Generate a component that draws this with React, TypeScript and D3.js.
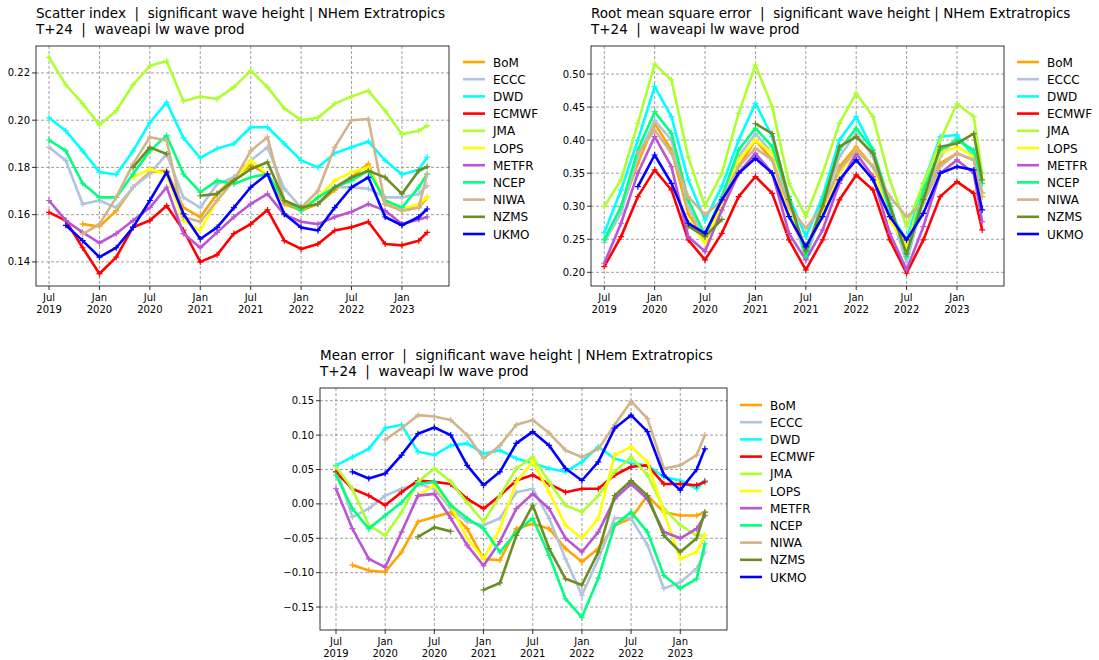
import React from 'react';
import * as d3 from 'd3';

// months since Jul 2019
const months = [0, 2, 4, 6, 8, 10, 12, 14, 16, 18, 20, 22, 24, 26, 28, 30, 32, 34, 36, 38, 40, 42, 44, 45];
const centres = ['BoM', 'ECCC', 'DWD', 'ECMWF', 'JMA', 'LOPS', 'METFR', 'NCEP', 'NIWA', 'NZMS', 'UKMO'];
const colours = ['#ffa500', '#b0c4de', '#00ffff', '#ff0000', '#adff2f', '#ffff00', '#ba55d3', '#00ff7f', '#d2b48c', '#6b8e23', '#0000ff'];
const xTickMonths = [0, 6, 12, 18, 24, 30, 36, 42];
const xTickLabels = [['Jul', '2019'], ['Jan', '2020'], ['Jul', '2020'], ['Jan', '2021'], ['Jul', '2021'], ['Jan', '2022'], ['Jul', '2022'], ['Jan', '2023']];
const N = null;

type S = (number | null)[];

const siBoM: S = [N, N, .156, .155, .1617, .1716, .178, .1786, .163, .159, .1688, .1758, .181, .1772, .1645, .1617, .1645, .1704, .1758, .1815, .1645, .1617, .163, .1673];
const siECCC: S = [.1885, .1829, .1645, .166, .163, .1716, .1772, .1857, .1673, .163, .173, .1758, .1829, .1885, .171, .163, .1645, .1716, .1716, .171, .1673, .1673, .1688, .1723];
const siDWD: S = [.201, .1955, .187, .178, .177, .187, .199, .2075, .1925, .184, .188, .19, .197, .197, .19, .183, .18, .186, .1885, .191, .183, .177, .179, .1843];
const siECMWF: S = [.161, .1575, .146, .135, .142, .1547, .1575, .1638, .1534, .14, .143, .152, .156, .162, .149, .1455, .1476, .1533, .1547, .157, .1476, .147, .149, .1525];
const siJMA: S = [.2266, .215, .207, .198, .204, .215, .223, .225, .208, .21, .209, .214, .221, .214, .205, .2, .201, .207, .21, .2125, .204, .194, .1955, .1977];
const siLOPS: S = [N, N, N, N, N, .1758, .1793, .177, .1575, .1533, .166, .1744, .183, .1772, .166, .163, .1673, .1744, .178, .18, .166, .1624, .1645, .1673];
const siMETFR: S = [.166, .1575, .1525, .148, .152, .1575, .163, .1716, .152, .146, .1525, .159, .1645, .1688, .16, .157, .156, .159, .1612, .1645, .1617, .156, .158, .159];
const siNCEP: S = [.1916, .187, .1733, .1673, .1673, .1772, .187, .1935, .1772, .1695, .1744, .173, .1758, .1772, .166, .1617, .1673, .1716, .1744, .1786, .166, .163, .1716, .1772];
const siNIWA: S = [N, N, .1518, .156, .1673, .1815, .1928, .1914, .159, .157, .166, .1744, .187, .1928, .166, .163, .17, .1885, .2, .2005, .1645, .1617, .163, .1772];
const siNZMS: S = [N, N, N, N, N, .18, .1885, .1857, N, .168, .1688, .1744, .1793, .1822, .166, .163, .1645, .1716, .1758, .1786, .1758, .1688, .1786, .1803];
const siUKMO: S = [N, .1555, .149, .142, .146, .1546, .166, .178, .1603, .1497, .1546, .163, .1716, .1772, .1603, .1546, .1533, .163, .1716, .1758, .159, .1555, .159, .1624];

const rmBoM: S = [N, .2944, .365, .4254, .385, .289, .249, .2994, .36, .4, .37, .289, .229, .289, .36, .39, .36, .289, .239, .3145, .365, .38, .37, .3145];
const rmECCC: S = [.245, .29, .375, .43, .4, .3, .25, .305, .375, .41, .38, .305, .22, .3, .375, .41, .375, .295, .215, .31, .375, .405, .38, .32];
const rmDWD: S = [.26, .3246, .4, .481, .4355, .34, .279, .33, .4, .4556, .4052, .3145, .254, .3145, .4, .4355, .385, .2893, .249, .3347, .405, .4077, .375, .32];
const rmECMWF: S = [.2087, .254, .3145, .355, .3246, .249, .2188, .259, .3145, .345, .3195, .249, .2037, .249, .3095, .3473, .3246, .249, .1986, .249, .3145, .3372, .3195, .2641];
const rmJMA: S = [.2994, .34, .4254, .515, .491, .3743, .3004, .35, .4405, .5136, .4506, .3347, .2843, .35, .4254, .4708, .4355, .3397, .2692, .3347, .3994, .455, .4355, .35];
const rmLOPS: S = [N, N, N, N, N, .279, .244, .3044, .37, .4, .38, .289, .234, .289, .35, .385, .36, .279, .239, .3246, .38, .39, .375, .32];
const rmMETFR: S = [.2137, .2742, .35, .4052, .3599, .254, .2314, .2944, .35, .38, .35, .259, .2188, .2641, .3347, .38, .3448, .259, .2037, .269, .35, .37, .35, .2767];
const rmNCEP: S = [.249, .2994, .385, .443, .4103, .3095, .2565, .3145, .385, .418, .39, .3145, .2238, .3095, .385, .418, .385, .3044, .2238, .3246, .385, .4, .385, .3347];
const rmNIWA: S = [N, N, .38, .4153, .38, .3145, .2868, .3095, .36, .3876, .37, .2994, .2666, .2994, .355, .385, .36, .3145, .284, .3044, .36, .38, .37, .32];
const rmNZMS: S = [N, N, N, N, N, .27, .254, .28, N, .425, .41, .31, .232, .3, .39, .405, .38, .3, .228, .31, .39, .395, .41, .34];
const rmUKMO: S = [N, N, .3296, .3775, .3347, .2742, .259, .3095, .35, .3725, .35, .2843, .2389, .2843, .34, .37, .34, .2843, .249, .2893, .35, .3599, .3548, .2944];

const meBoM: S = [N, -.089, -.097, -.099, -.07, -.026, -.019, -.012, -.036, -.08, -.082, -.036, -.029, -.036, -.065, -.084, -.065, -.031, -.021, .012, -.012, -.017, -.017, -.012];
const meECCC: S = [.054, -.019, -.007, .012, .022, .029, .022, -.007, -.026, -.031, -.021, .017, .022, -.021, -.08, -.133, -.08, -.021, -.021, -.06, -.123, -.114, -.094, -.07];
const meDWD: S = [.056, .068, .08, .11, .115, .0757, .071, .085, .088, .073, .078, .066, .059, .0515, .0466, .061, .083, .066, .059, .056, .039, .034, .022, .034];
const meECMWF: S = [.0466, .022, .012, -.002, .017, .034, .032, .029, .0073, -.007, .012, .034, .042, .029, .017, .022, .022, .042, .054, .056, .029, .029, .027, .032];
const meJMA: S = [.054, .022, -.031, -.046, -.012, .032, .0515, .032, .002, -.026, .012, .0515, .068, .032, -.002, -.012, .012, .0466, .068, .042, -.007, -.031, -.046, -.046];
const meLOPS: S = [N, N, N, N, N, .012, .027, -.002, -.05, -.08, -.036, .032, .061, .017, -.031, -.05, -.021, .071, .083, .061, -.012, -.08, -.07, -.046];
const meMETFR: S = [.022, -.036, -.08, -.092, -.041, .012, .0146, -.021, -.06, -.09, -.055, -.007, .0146, -.007, -.05, -.07, -.041, .0073, .029, .007, -.041, -.05, -.036, -.017];
const meNCEP: S = [.042, -.007, -.036, -.017, .002, .029, .032, -.002, -.021, -.036, -.07, -.041, -.021, -.075, -.138, -.165, -.108, -.031, -.012, -.041, -.104, -.123, -.109, -.058];
const meNIWA: S = [N, N, N, .093, .11, .129, .127, .122, .1, .066, .085, .115, .122, .103, .078, .068, .08, .115, .149, .124, .0515, .056, .071, .1];
const meNZMS: S = [N, N, N, N, N, -.048, -.034, -.04, N, -.125, -.115, -.046, -.002, -.065, -.109, -.118, -.07, .012, .034, .012, -.046, -.07, -.05, -.012];
const meUKMO: S = [N, .0466, .037, .044, .071, .102, .111, .1, .056, .0272, .0466, .088, .105, .085, .0515, .034, .061, .11, .129, .105, .042, .02, .05, .08];

const siTicks = [0.14, 0.16, 0.18, 0.20, 0.22];
const rmTicks = [0.20, 0.25, 0.30, 0.35, 0.40, 0.45, 0.50];
const meTicks = [-0.15, -0.10, -0.05, 0.00, 0.05, 0.10, 0.15];

const font = 'DejaVu Sans, sans-serif';

interface PanelProps {
  title: string;
  left: number;
  top: number;
  width: number;
  height: number;
  xDomain: [number, number];
  yDomain: [number, number];
  yTicks: number[];
  series: S[];
  legendX: number;
  legendY: number;
}

const Panel: React.FC<PanelProps> = ({ title, left, top, width, height, xDomain, yDomain, yTicks, series, legendX, legendY }) => {
  const x = d3.scaleLinear().domain(xDomain).range([left, left + width]);
  const y = d3.scaleLinear().domain(yDomain).range([top + height, top]);
  const line = d3
    .line<number | null>()
    .defined((d) => d !== null)
    .x((_, i) => x(months[i]))
    .y((d) => y(d as number));
  const fmt = (v: number) => d3.format('.2f')(v).replace('-', '\u2212');
  return (
    <g>
      <text x={left} y={top - 28} fontSize={13.5} fontFamily={font} style={{ whiteSpace: 'pre' }}>{title}</text>
      <text x={left} y={top - 12} fontSize={13.5} fontFamily={font} style={{ whiteSpace: 'pre' }}>{'T+24  |  waveapi lw wave prod'}</text>
      <rect x={left} y={top} width={width} height={height} fill="white" />
      {xTickMonths.map((m, i) => (
        <g key={'x' + m}>
          <line x1={x(m)} x2={x(m)} y1={top} y2={top + height} stroke="#888" strokeDasharray="3,2" strokeWidth={0.8} />
          <line x1={x(m)} x2={x(m)} y1={top + height} y2={top + height + 4} stroke="#000" strokeWidth={0.8} />
          <text x={x(m)} y={top + height + 15} fontSize={10} fontFamily={font} textAnchor="middle">{xTickLabels[i][0]}</text>
          <text x={x(m)} y={top + height + 27} fontSize={10} fontFamily={font} textAnchor="middle">{xTickLabels[i][1]}</text>
        </g>
      ))}
      {yTicks.map((t) => (
        <g key={'y' + t}>
          <line x1={left} x2={left + width} y1={y(t)} y2={y(t)} stroke="#888" strokeDasharray="3,2" strokeWidth={0.8} />
          <line x1={left - 4} x2={left} y1={y(t)} y2={y(t)} stroke="#000" strokeWidth={0.8} />
          <text x={left - 6} y={y(t) + 3.5} fontSize={10} fontFamily={font} textAnchor="end">{fmt(t)}</text>
        </g>
      ))}
      {series.map((s, k) => (
        <g key={'s' + k}>
          <path d={line(s) || ''} fill="none" stroke={colours[k]} strokeWidth={2.6} strokeLinejoin="round" />
          {s.map((v, i) =>
            v === null ? null : (
              <path key={i} d={`M${x(months[i]) - 3},${y(v)}h6M${x(months[i])},${y(v) - 3}v6`} stroke={colours[k]} strokeWidth={1.2} />
            )
          )}
        </g>
      ))}
      <rect x={left} y={top} width={width} height={height} fill="none" stroke="#000" strokeWidth={0.8} />
      {centres.map((c, k) => (
        <g key={'l' + c}>
          <line x1={legendX} x2={legendX + 22} y1={legendY + k * 17.2} y2={legendY + k * 17.2} stroke={colours[k]} strokeWidth={2.6} />
          <text x={legendX + 30} y={legendY + k * 17.2 + 4.5} fontSize={12} fontFamily={font}>{c}</text>
        </g>
      ))}
    </g>
  );
};

const App: React.FC = () => (
  <svg width={1099} height={660} style={{ position: 'absolute', left: 0, top: 0, background: 'white' }}>
    <Panel
      title="Scatter index  |  significant wave height | NHem Extratropics"
      left={36} top={46} width={413} height={240}
      xDomain={[-1.55, 47.6]} yDomain={[0.1298, 0.2314]} yTicks={siTicks}
      series={[siBoM, siECCC, siDWD, siECMWF, siJMA, siLOPS, siMETFR, siNCEP, siNIWA, siNZMS, siUKMO]}
      legendX={463} legendY={62}
    />
    <Panel
      title="Root mean square error  |  significant wave height | NHem Extratropics"
      left={591} top={46} width={413} height={240}
      xDomain={[-1.58, 47.6]} yDomain={[0.1793, 0.5424]} yTicks={rmTicks}
      series={[rmBoM, rmECCC, rmDWD, rmECMWF, rmJMA, rmLOPS, rmMETFR, rmNCEP, rmNIWA, rmNZMS, rmUKMO]}
      legendX={1017} legendY={62}
    />
    <Panel
      title="Mean error  |  significant wave height | NHem Extratropics"
      left={320} top={388} width={407} height={242}
      xDomain={[-1.95, 47.7]} yDomain={[-0.1834, 0.1685]} yTicks={meTicks}
      series={[meBoM, meECCC, meDWD, meECMWF, meJMA, meLOPS, meMETFR, meNCEP, meNIWA, meNZMS, meUKMO]}
      legendX={740} legendY={405}
    />
  </svg>
);

export default App;
